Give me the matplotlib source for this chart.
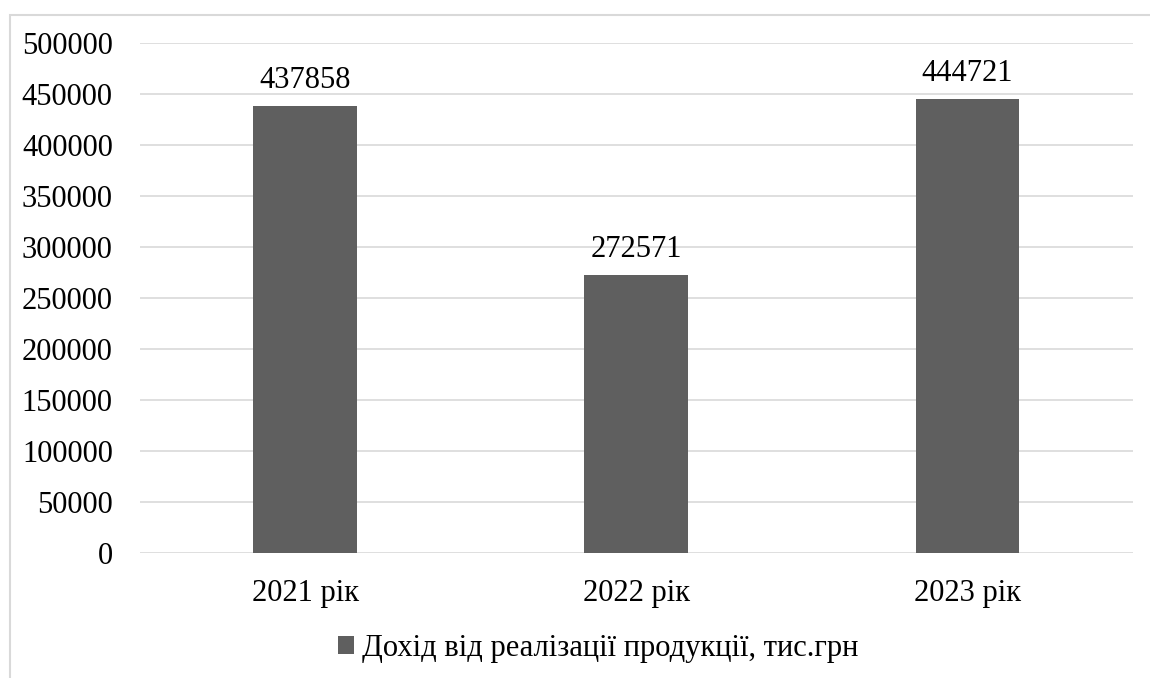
import matplotlib.pyplot as plt
from matplotlib.patches import Patch, Rectangle

# --- Дані ---
categories = ['2021 рік', '2022 рік', '2023 рік']
values = [437858, 272571, 444721]
series_name = 'Дохід від реалізації продукції, тис.грн'
yticks = [0, 50000, 100000, 150000, 200000, 250000, 300000, 350000, 400000, 450000, 500000]

plt.rcParams['font.family'] = ['Liberation Serif', 'DejaVu Serif']

bar_color = '#5f5f5f'
grid_color = '#d9d9d9'
fs = 22

fig = plt.figure(figsize=(11.5, 6.78), dpi=100)
ax = fig.add_axes([0.1217, 0.1844, 0.8635, 0.7522])

x = range(len(categories))
bars = ax.bar(x, values, width=0.314, color=bar_color, zorder=3)

for b, v in zip(bars, values):
    ax.text(b.get_x() + b.get_width() / 2, v + 11000, str(v),
            ha='center', va='bottom', fontsize=fs, color='black')

ax.set_xlim(-0.5, len(categories) - 0.5)
ax.set_ylim(0, 500000)
ax.set_yticks(yticks)
ax.set_yticklabels([str(t) for t in yticks])
ax.set_xticks(list(x))
ax.set_xticklabels(categories)
ax.tick_params(axis='both', length=0, labelsize=fs)
ax.tick_params(axis='y', pad=19.5)
ax.tick_params(axis='x', pad=18.5)
ax.yaxis.grid(True, color=grid_color, lw=1.2, zorder=0)
for s in ax.spines.values():
    s.set_visible(False)

# рамка області діаграми
fig.patches.append(Rectangle((0.0083, -0.2), 1.2, 0.978 + 0.2, transform=fig.transFigure,
                             fill=False, edgecolor=grid_color, lw=1.5))

legend_elements = [Patch(facecolor=bar_color, edgecolor='none', label=series_name)]
fig.legend(handles=legend_elements, loc='center', bbox_to_anchor=(0.52, 0.044),
           frameon=False, fontsize=fs, handlelength=0.55, handleheight=0.55,
           handletextpad=0.25)

fig.savefig('out.png', dpi=100)
